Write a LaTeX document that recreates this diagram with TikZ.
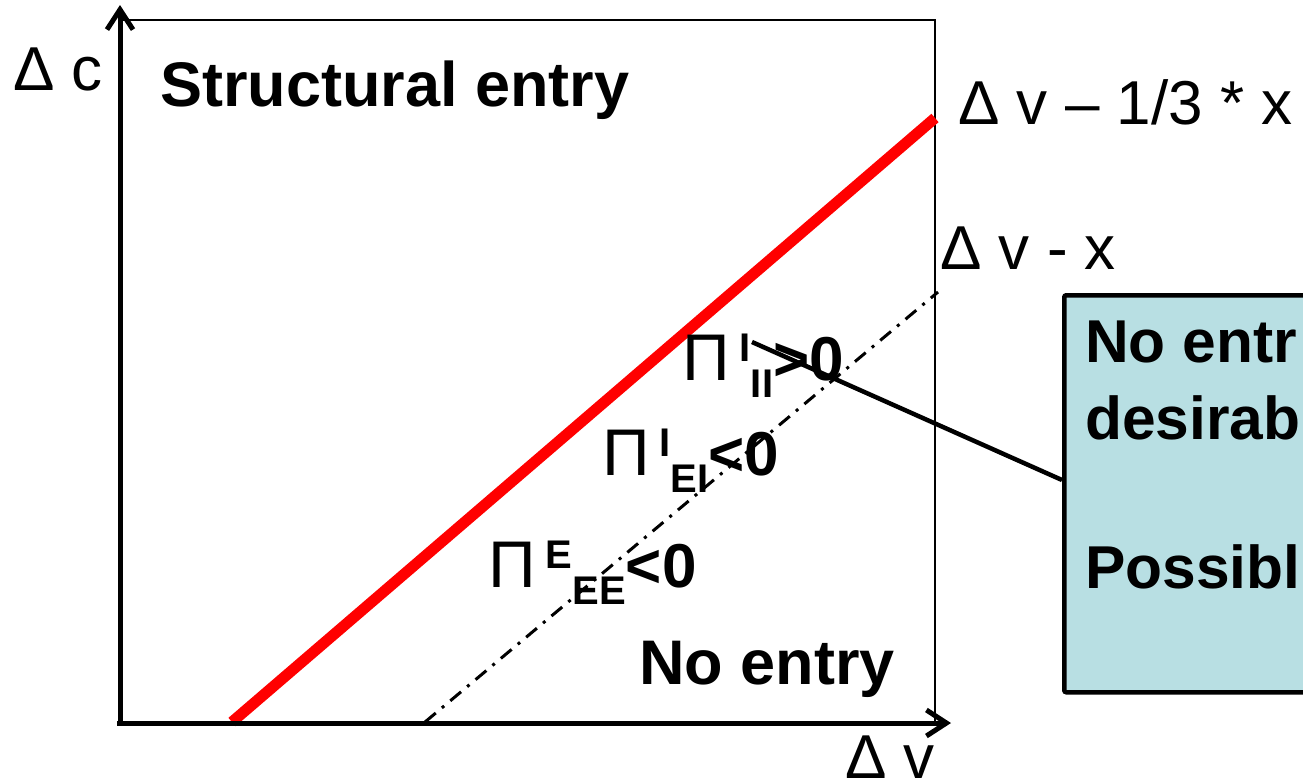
\documentclass[tikz,border=0pt]{standalone}
\usepackage{fontspec}
\setmainfont{Liberation Sans}
\usetikzlibrary{arrows.meta}
\definecolor{boxteal}{RGB}{184,223,227}
\newcommand\pilab[3]{{\fontsize{66}{70}\selectfont Π}\hspace{10pt}{\bfseries\fontsize{40}{42}\selectfont\raisebox{19pt}{#1}\raisebox{-17pt}{#2}}{\bfseries\fontsize{62}{66}\selectfont #3}}
\tikzset{
  axis/.style={line width=5pt,-{Straight Barb[length=20pt,width=26pt,line width=5pt]}},
  frame/.style={line width=1.6pt},
  lab/.style={inner sep=0pt,anchor=base west},
  big/.style={font=\fontsize{62}{74}\selectfont},
  bigb/.style={font=\bfseries\fontsize{63}{74}\selectfont},
  boxb/.style={font=\bfseries\fontsize{60.5}{74}\selectfont},
  callout/.style={draw,line width=4.5pt,fill=boxteal,rounded corners=2pt,anchor=north west,minimum width=400pt,minimum height=397pt,inner sep=0pt},
}
\begin{document}
\begin{tikzpicture}[x=1pt,y=-1pt]
\useasboundingbox (0,0) rectangle (1303,780);
\clip (0,0) rectangle (1303,780);
% coordinates
\coordinate (o) at (120,723);
\coordinate (ytop) at (120,5);
\coordinate (xend) at (951,723);
\coordinate (o2) at (117,723);
\coordinate (ftl) at (120,20);
\coordinate (ftr) at (935,20);
\coordinate (fbr) at (935,723);
\coordinate (r1) at (232,722);
\coordinate (r2) at (935,118);
\coordinate (d1) at (425,722);
\coordinate (d2) at (938,292);
\coordinate (cs) at (752,342);
% frame
\draw[frame] (ftl) -- (ftr) -- (fbr);
% lines
\draw[red,line width=11pt] (r1) -- (r2);
\draw[line width=3pt,dash pattern=on 14pt off 8pt on 3pt off 8pt] (d1) -- (d2);
% callout box
\node[callout] (box) at (1062,293) {};
\node[lab,boxb] (bt1) at (1085,362) {No entr};
\node[lab,boxb] (bt2) at (1085,439) {desirab};
\node[lab,boxb] (bt3) at (1085,588) {Possibl};
\draw[line width=4.5pt] (cs) -- (box.west |- 0,480);
% axes
\draw[axis] (o) -- (ytop);
\draw[axis] (o2) -- (xend);
% labels
\node[lab,big] (dc) at (13,90) {Δ c};
\node[lab,bigb] (se) at (160,106) {Structural entry};
\node[lab,big] (l1) at (958,124) {Δ v – 1/3 * x};
\node[lab,big] (l2) at (940,269) {Δ v - x};
\node[lab,big] (dv) at (845,778) {Δ v};
\node[lab,bigb] (ne) at (639,684) {No entry};
\node[lab] (p1) at (682,380) {\pilab{I}{II}{>0}};
\node[lab] (p2) at (602,475) {\pilab{I}{EI}{<0}};
\node[lab] (p3) at (488,587) {\pilab{E}{EE}{<0}};
\end{tikzpicture}
\end{document}
